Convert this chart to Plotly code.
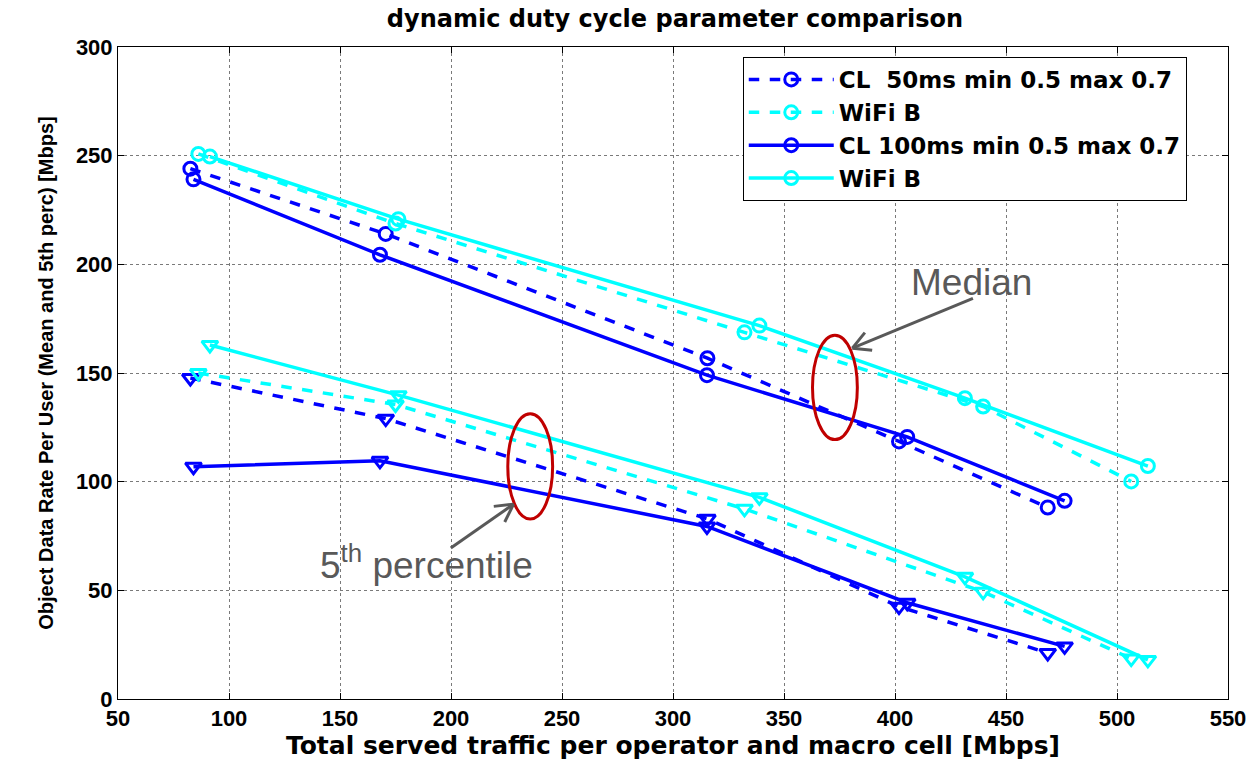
import math
import plotly.graph_objects as go

# ---- data ----
x_cl50 = [82.6, 170.6, 315.5, 401.8, 468.8]
x_cl100 = [84.0, 168.0, 315.3, 405.5, 476.4]
x_wifi_a = [86.2, 175.0, 332.2, 439.7, 506.4]
x_wifi_b = [91.4, 176.3, 338.9, 431.5, 513.9]

med_cl50 = [244.0, 214.0, 156.8, 118.5, 88.1]
med_cl100 = [239.1, 204.4, 149.0, 120.6, 91.2]
med_wifi_a = [250.8, 218.8, 168.7, 134.6, 100.1]
med_wifi_b = [249.6, 220.8, 171.8, 138.4, 107.2]

p5_cl50 = [147.7, 129.0, 82.9, 42.5, 21.2]
p5_cl100 = [106.9, 109.6, 79.4, 44.3, 24.2]
p5_wifi_a = [150.0, 135.5, 87.5, 49.3, 18.6]
p5_wifi_b = [162.9, 139.8, 92.8, 56.2, 18.0]

legend_names = ["CL\u00a0\u00a050ms min 0.5 max 0.7", "WiFi B",
                "CL 100ms min 0.5 max 0.7", "WiFi B"]

BLUE = "rgb(0,0,255)"
CYAN = "rgb(0,255,255)"

fig = go.Figure()

series = [
    (x_cl50, med_cl50, p5_cl50, BLUE, "dash", legend_names[0]),
    (x_wifi_a, med_wifi_a, p5_wifi_a, CYAN, "dash", legend_names[1]),
    (x_cl100, med_cl100, p5_cl100, BLUE, "solid", legend_names[2]),
    (x_wifi_b, med_wifi_b, p5_wifi_b, CYAN, "solid", legend_names[3]),
]

for xs, med, p5, col, dash, name in series:
    fig.add_trace(go.Scatter(
        x=xs, y=med, mode="lines+markers", name=name,
        line=dict(color=col, width=3.5, dash=dash),
        marker=dict(symbol="circle-open", size=13, color=col,
                    line=dict(width=3, color=col)),
    ))
for xs, med, p5, col, dash, name in series:
    fig.add_trace(go.Scatter(
        x=xs, y=p5, mode="lines+markers", name=name, showlegend=False,
        line=dict(color=col, width=3.5, dash=dash),
        marker=dict(symbol="triangle-down-open", size=14, color=col,
                    line=dict(width=3, color=col)),
    ))

# ---- layout helpers (pixel -> data) ----
L, R, T, B = 118, 1232, 47, 703
XR, YR = (50, 550), (0, 300)


def px2x(px):
    return XR[0] + (px - L) * (XR[1] - XR[0]) / (R - L)


def px2y(py):
    return YR[1] - (py - T) * (YR[1] - YR[0]) / (B - T)


GRAY = "#595959"
RED = "rgb(192,0,0)"
shapes = []
for cx, cy, hw, hh in [(837.5, 389.5, 22.5, 52.5), (531.7, 469.0, 22.5, 53.0)]:
    shapes.append(dict(type="circle", xref="x", yref="y",
                       x0=px2x(cx - hw), x1=px2x(cx + hw),
                       y0=px2y(cy + hh), y1=px2y(cy - hh),
                       line=dict(color=RED, width=3)))


def arrow(tail, head):
    tx, ty = tail
    hx, hy = head
    d = math.hypot(tx - hx, ty - hy)
    ux, uy = (tx - hx) / d, (ty - hy) / d
    out = [dict(type="line", xref="x", yref="y", x0=px2x(tx), y0=px2y(ty),
                x1=px2x(hx), y1=px2y(hy), line=dict(color=GRAY, width=3))]
    for ang in (0.5, -0.5):
        ca, sa = math.cos(ang), math.sin(ang)
        vx, vy = ux * ca - uy * sa, ux * sa + uy * ca
        out.append(dict(type="line", xref="x", yref="y",
                        x0=px2x(hx), y0=px2y(hy),
                        x1=px2x(hx + 20 * vx), y1=px2y(hy + 20 * vy),
                        line=dict(color=GRAY, width=3)))
    return out


shapes += arrow((976, 300), (855, 350))
shapes += arrow((452, 551), (515, 507))

annotations = [
    dict(x=px2x(975), y=px2y(284), xref="x", yref="y", text="Median",
         showarrow=False, font=dict(family="Liberation Sans, Arial", size=37, color=GRAY)),
    dict(x=px2x(428), y=px2y(566), xref="x", yref="y", text="5<sup>th</sup> percentile",
         showarrow=False, font=dict(family="Liberation Sans, Arial", size=37, color=GRAY)),
]

tickfont = dict(family="Liberation Sans, Arial", size=22, color="black", weight="bold")
wide = "DejaVu Sans, Liberation Sans"

fig.update_layout(
    width=1258, height=763,
    margin=dict(l=L, r=1258 - R, t=T, b=763 - B),
    paper_bgcolor="white", plot_bgcolor="white",
    title=dict(text="dynamic duty cycle parameter comparison", x=0.5 * (L + R) / 1258,
               xanchor="center", y=1 - 19 / 763, yanchor="middle",
               font=dict(family=wide, size=24, color="black", weight="bold")),
    xaxis=dict(range=list(XR), dtick=50, tick0=50, showgrid=True, gridcolor="#7a7a7a",
               griddash="dot", gridwidth=1, showline=True, linecolor="black", linewidth=1,
               mirror="ticks", ticks="inside", ticklen=6, tickcolor="black",
               tickfont=tickfont, zeroline=False,
               title=dict(text="Total served traffic per operator and macro cell [Mbps]",
                          font=dict(family=wide, size=25, color="black", weight="bold"),
                          standoff=2)),
    yaxis=dict(range=list(YR), dtick=50, showgrid=True, gridcolor="#7a7a7a",
               griddash="dot", gridwidth=1, showline=True, linecolor="black", linewidth=1,
               mirror="ticks", ticks="inside", ticklen=6, tickcolor="black",
               tickfont=tickfont, zeroline=False,
               title=dict(text="Object Data Rate Per User (Mean and 5th perc) [Mbps]",
                          font=dict(family="Liberation Sans, Arial", size=20,
                                    color="black", weight="bold"), standoff=16)),
    legend=dict(x=(745 - L) / (R - L), y=1 - (57 - T) / (B - T), xanchor="left", yanchor="top",
                bgcolor="white", bordercolor="black", borderwidth=1,
                font=dict(family=wide, size=23, color="black", weight="bold"),
                itemwidth=85, tracegroupgap=0, entrywidth=375),
    shapes=shapes, annotations=annotations,
)

fig.write_html("out.html")
